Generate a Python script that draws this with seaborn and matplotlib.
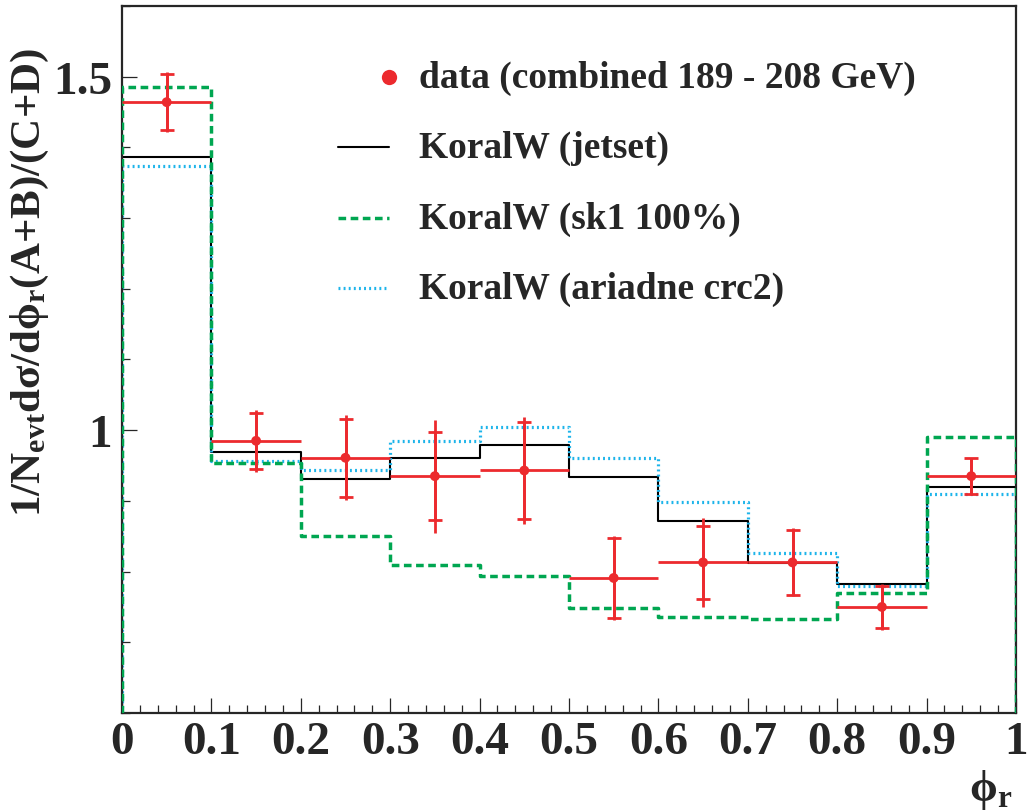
import numpy as np
import pandas as pd
import matplotlib
matplotlib.use('Agg')
import matplotlib.pyplot as plt
import seaborn as sns
from matplotlib.ticker import MultipleLocator, FuncFormatter

# bin edges in phi_r and the measured / simulated ratio per bin
bin_edges = [0.0, 0.1, 0.2, 0.3, 0.4, 0.5, 0.6, 0.7, 0.8, 0.9, 1.0]
data_vals = [1.464, 0.985, 0.961, 0.935, 0.943, 0.791, 0.813, 0.813, 0.750, 0.935]
data_stat = [0.040, 0.040, 0.055, 0.062, 0.068, 0.056, 0.052, 0.046, 0.030, 0.025]
data_total = [0.042, 0.044, 0.060, 0.080, 0.076, 0.060, 0.063, 0.048, 0.032, 0.026]
jetset_vals = [1.386, 0.969, 0.931, 0.960, 0.979, 0.934, 0.871, 0.812, 0.782, 0.920]
sk1_vals = [1.486, 0.954, 0.850, 0.809, 0.794, 0.748, 0.736, 0.733, 0.770, 0.990]
ariadne_vals = [1.373, 0.957, 0.943, 0.985, 1.005, 0.960, 0.898, 0.826, 0.780, 0.910]

labels = ['data (combined 189 - 208 GeV)', 'KoralW (jetset)',
          'KoralW (sk1 100%)', 'KoralW (ariadne crc2)']

RED = '#ec2a2e'
GREEN = '#00a651'
BLUE = '#1db4ea'
YMIN, YMAX = 0.6, 1.6

sns.set_style('ticks')
plt.rcParams['font.family'] = ['Liberation Serif', 'DejaVu Serif']
plt.rcParams['font.weight'] = 'bold'
plt.rcParams['mathtext.fontset'] = 'custom'
plt.rcParams['mathtext.rm'] = 'Liberation Serif:bold'
plt.rcParams['mathtext.it'] = 'Liberation Serif:bold'
plt.rcParams['mathtext.bf'] = 'Liberation Serif:bold'

fig = plt.figure(figsize=(10.28, 8.12), dpi=100)
ax = fig.add_axes([122 / 1028, 98 / 812, 894 / 1028, 707 / 812])

edges = np.array(bin_edges)
centers = (edges[:-1] + edges[1:]) / 2
half_w = np.diff(edges) / 2


def outline(vals):
    # histogram outline, closed down to the frame at both ends
    xs = np.repeat(edges, 2)
    ys = np.concatenate([[YMIN], np.repeat(vals, 2), [YMIN]])
    return pd.DataFrame({'x': xs, 'y': ys})


sns.lineplot(data=outline(sk1_vals), x='x', y='y', ax=ax, sort=False, estimator=None,
             color=GREEN, lw=2.5, linestyle=(0, (2.2, 1.3)), zorder=3)
sns.lineplot(data=outline(jetset_vals), x='x', y='y', ax=ax, sort=False, estimator=None,
             color='black', lw=1.5, zorder=2)
sns.lineplot(data=outline(ariadne_vals), x='x', y='y', ax=ax, sort=False, estimator=None,
             color=BLUE, lw=2.3, linestyle=(0, (0.6, 1.0)), zorder=2.5)

# data: total error as plain bar, stat error with caps
ax.errorbar(centers, data_vals, xerr=half_w, yerr=data_total, fmt='none',
            ecolor=RED, elinewidth=2, capsize=0, zorder=5)
ax.errorbar(centers, data_vals, yerr=data_stat, fmt='none',
            ecolor=RED, elinewidth=2, capsize=5, capthick=2, zorder=5)
sns.scatterplot(x=centers, y=data_vals, ax=ax, color=RED, s=50,
                edgecolor='none', zorder=6)

ax.set_xlim(0, 1)
ax.set_ylim(YMIN, YMAX)
ax.set_xlabel('')
ax.set_ylabel('')
ax.xaxis.set_major_locator(MultipleLocator(0.1))
ax.xaxis.set_minor_locator(MultipleLocator(0.02))
ax.set_yticks([1.0, 1.5])
ax.yaxis.set_minor_locator(MultipleLocator(0.1))
fmt = FuncFormatter(lambda v, p: f'{v:g}')
ax.xaxis.set_major_formatter(fmt)
ax.yaxis.set_major_formatter(fmt)
ax.tick_params(which='both', direction='in', top=False, right=False,
               labelsize=34, width=0.9)
ax.tick_params(which='major', length=11)
ax.tick_params(which='minor', length=6)
ax.tick_params(axis='x', pad=6)
ax.tick_params(axis='y', pad=7)
for sp in ax.spines.values():
    sp.set_linewidth(1.6)

fig.text(30 / 1028, 1 - 282 / 812,
         r'1/N$_{\mathrm{evt}}$dσ/dϕ$_{\mathrm{r}}$(A+B)/(C+D)',
         rotation=90, ha='center', va='center', fontsize=31, fontweight='bold')
fig.text(1012 / 1028, 1 - 790 / 812, r'ϕ$_{\mathrm{r}}$', ha='right', va='center',
         fontsize=32, fontweight='bold')

# legend drawn by hand, ROOT style
rows_y = [78, 148, 219, 289]
styles = [None,
          dict(color='black', lw=1.5),
          dict(color=GREEN, lw=2.5, linestyle=(0, (2.2, 1.3))),
          dict(color=BLUE, lw=2.3, linestyle=(0, (0.6, 1.0)))]
for ypx, lab, st in zip(rows_y, labels, styles):
    fy = 1 - ypx / 812
    if st is None:
        fig.lines.append(plt.Line2D([389 / 1028], [fy], marker='o', color=RED,
                                    markersize=11, markeredgewidth=0,
                                    transform=fig.transFigure))
    else:
        fig.lines.append(plt.Line2D([338 / 1028, 389 / 1028], [fy, fy],
                                    transform=fig.transFigure, **st))
    fig.text(419 / 1028, fy, lab, ha='left', va='center', fontsize=27, fontweight='bold')

fig.savefig('out.png', dpi=100)
